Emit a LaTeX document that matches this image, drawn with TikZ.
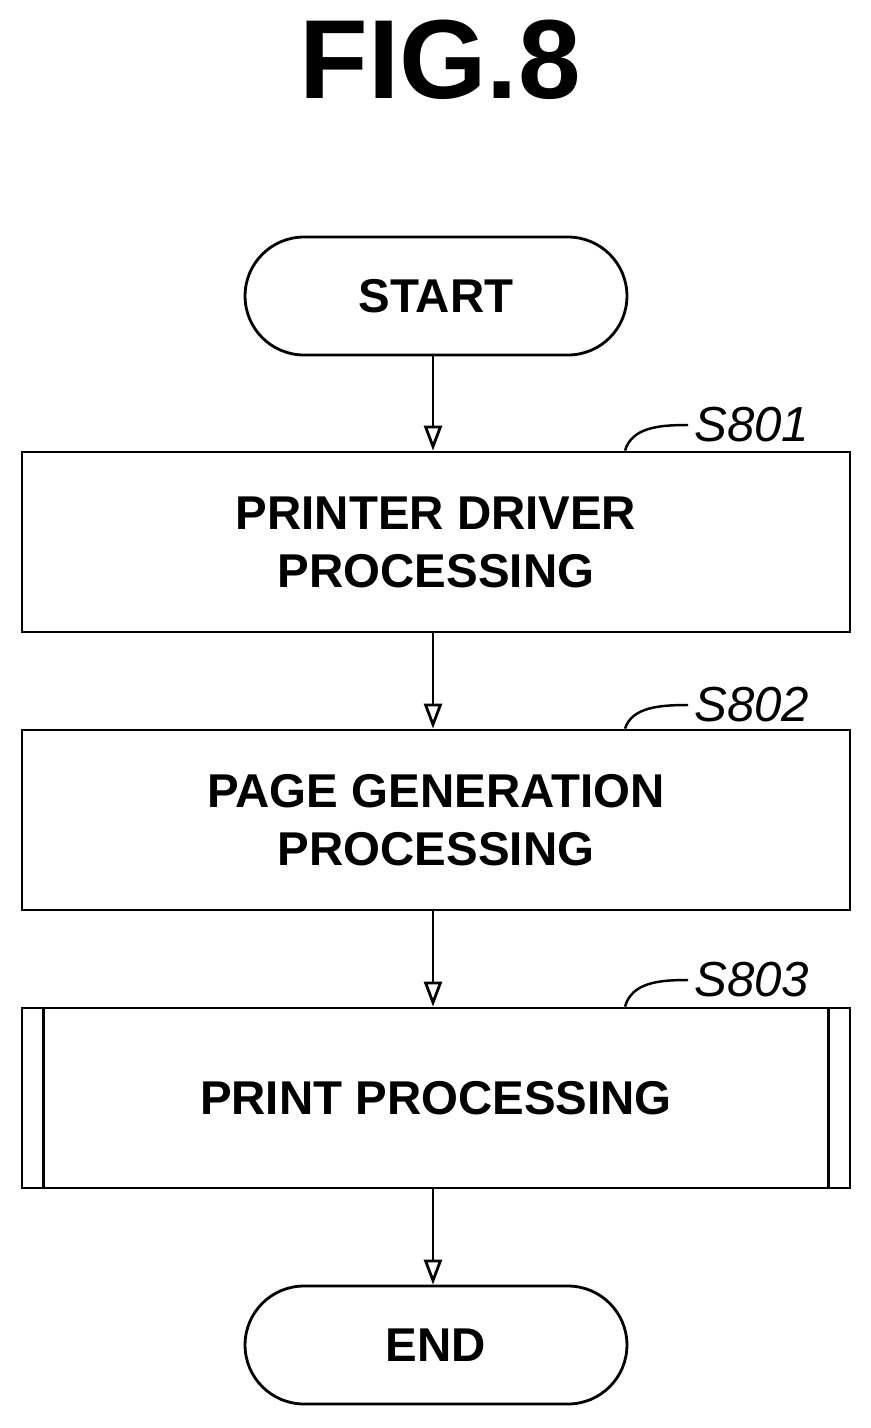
\documentclass[tikz,border=0pt]{standalone}
\usepackage{fontspec}
\setmainfont{Liberation Sans}
\usetikzlibrary{arrows.meta}
\usetikzlibrary{calc}
\tikzset{
  procbox/.style={draw, line width=1.6pt, minimum width=16.56cm, minimum height=3.6cm, align=center, font=\fontsize{27}{33}\selectfont\bfseries},
  termbox/.style={draw, line width=1.6pt, minimum width=7.64cm, minimum height=2.36cm, rounded corners=1.18cm, font=\fontsize{27}{33}\selectfont\bfseries},
  flow/.style={line width=1.6pt, -{Triangle[open,length=0.5cm,width=0.36cm]}},
  steplabel/.style={font=\fontsize{28}{32}\selectfont\itshape, anchor=west},
}
\begin{document}
\begin{tikzpicture}[x=0.02cm,y=-0.02cm]
                \useasboundingbox (0,0) rectangle (870,1428);
                \node[font=\fontsize{64}{70}\selectfont\bfseries] (title) at (440,60) {FIG.8};
                \node[termbox] (start) at (436,296) {START};
                \node[procbox] (s801) at (436,542) {PRINTER DRIVER\\PROCESSING};
                \node[procbox] (s802) at (436,820) {PAGE GENERATION\\PROCESSING};
                \node[procbox] (s803) at (436,1098) {PRINT PROCESSING};
                \node[termbox] (end) at (436,1345) {END};
                \draw[line width=1.6pt] ($(s803.north west)+(23,0)$) -- ($(s803.south west)+(23,0)$);
                \draw[line width=1.6pt] ($(s803.north east)+(-23,0)$) -- ($(s803.south east)+(-23,0)$);
                \foreach \a/\b in {start/s801, s801/s802, s802/s803, s803/end} {
                    \draw[flow] (\a.south -| 433,0) -- (\b.north -| 433,0);
                }
                \foreach \s/\n/\y in {s801/S801/425, s802/S802/705, s803/S803/980} {
                    \coordinate (\s tip) at (688,\y);
                    \draw[line width=1.4pt] (\s.north -| 625,0) .. controls (632,\y+2) and (660,\y) .. (\s tip);
                    \node[steplabel] at (\s tip) {\n};
                }
\end{tikzpicture}
\end{document}
